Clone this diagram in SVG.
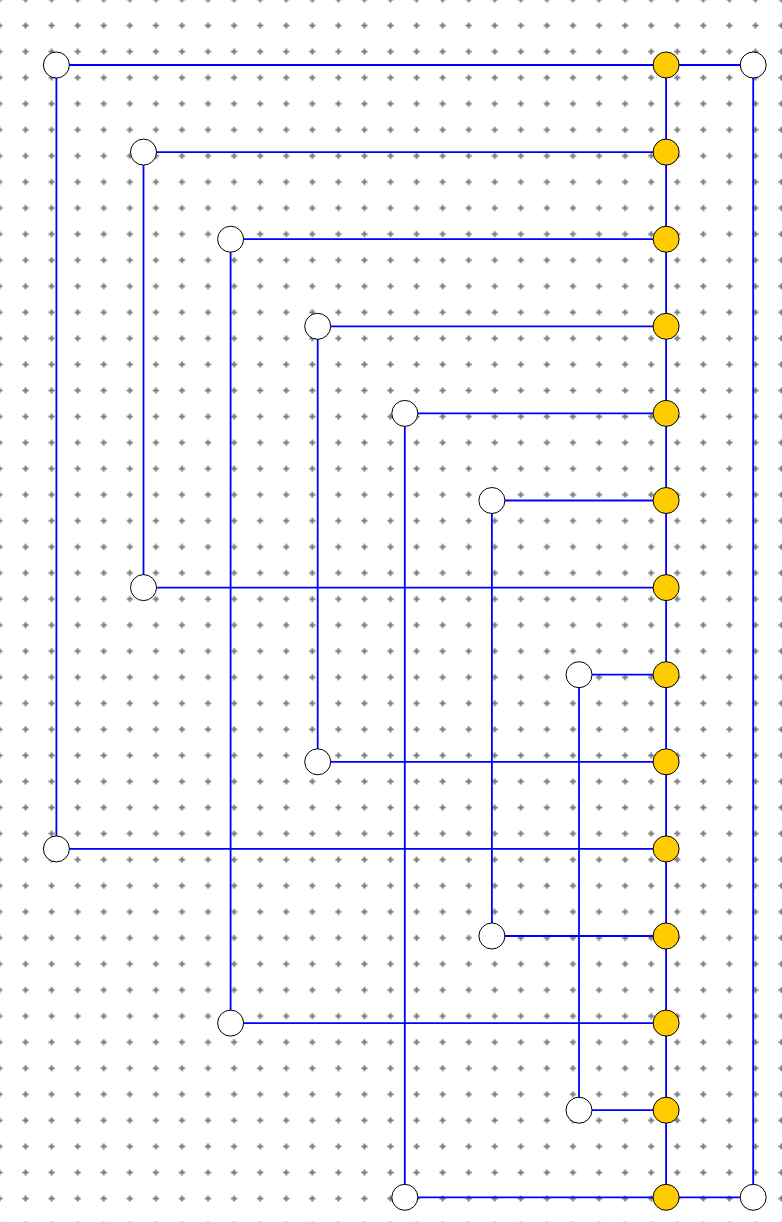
<svg xmlns="http://www.w3.org/2000/svg" width="782" height="1222" viewBox="0 0 782 1222">
<style>
.e{stroke:#0000FF;stroke-width:1.8;fill:none}
.w{fill:#FFFFFF;stroke:#000000;stroke-width:1}
.y{fill:#FFCC00;stroke:#000000;stroke-width:1}
</style>
<defs>
<pattern id="grid" patternUnits="userSpaceOnUse" x="-13.53" y="-13.53" width="26.0667" height="26.0667">
<path d="M10.03 13.03H16.03M13.03 10.03V16.03" stroke="#7A7A7A" stroke-width="2"/>
</pattern>
</defs>
<rect width="782" height="1222" fill="#FFFFFF"/>
<rect width="782" height="1222" fill="url(#grid)"/>
<g id="connectors">
<line class="e" x1="666.1" y1="65" x2="666.1" y2="1197.3"/>
<line class="e" x1="666.1" y1="65" x2="753.2" y2="65"/>
<line class="e" x1="753.2" y1="65" x2="753.2" y2="1197.3"/>
<line class="e" x1="753.2" y1="1197.3" x2="666.1" y2="1197.3"/>
<line class="e" x1="56.4" y1="65" x2="666.1" y2="65"/>
<line class="e" x1="56.4" y1="65" x2="56.4" y2="848.9"/>
<line class="e" x1="56.4" y1="848.9" x2="666.1" y2="848.9"/>
<line class="e" x1="143.5" y1="152.1" x2="666.1" y2="152.1"/>
<line class="e" x1="143.5" y1="152.1" x2="143.5" y2="587.6"/>
<line class="e" x1="143.5" y1="587.6" x2="666.1" y2="587.6"/>
<line class="e" x1="230.6" y1="239.2" x2="666.1" y2="239.2"/>
<line class="e" x1="230.6" y1="239.2" x2="230.6" y2="1023.1"/>
<line class="e" x1="230.6" y1="1023.1" x2="666.1" y2="1023.1"/>
<line class="e" x1="317.7" y1="326.3" x2="666.1" y2="326.3"/>
<line class="e" x1="317.7" y1="326.3" x2="317.7" y2="761.8"/>
<line class="e" x1="317.7" y1="761.8" x2="666.1" y2="761.8"/>
<line class="e" x1="404.8" y1="413.4" x2="666.1" y2="413.4"/>
<line class="e" x1="404.8" y1="413.4" x2="404.8" y2="1197.3"/>
<line class="e" x1="404.8" y1="1197.3" x2="666.1" y2="1197.3"/>
<line class="e" x1="491.9" y1="500.5" x2="666.1" y2="500.5"/>
<line class="e" x1="491.9" y1="500.5" x2="491.9" y2="936"/>
<line class="e" x1="491.9" y1="936" x2="666.1" y2="936"/>
<line class="e" x1="579" y1="674.7" x2="666.1" y2="674.7"/>
<line class="e" x1="579" y1="674.7" x2="579" y2="1110.2"/>
<line class="e" x1="579" y1="1110.2" x2="666.1" y2="1110.2"/>
</g>
<g id="y0"><circle class="y" cx="666.1" cy="65" r="13"/></g>
<g id="y1"><circle class="y" cx="666.1" cy="152.1" r="13"/></g>
<g id="y2"><circle class="y" cx="666.1" cy="239.2" r="13"/></g>
<g id="y3"><circle class="y" cx="666.1" cy="326.3" r="13"/></g>
<g id="y4"><circle class="y" cx="666.1" cy="413.4" r="13"/></g>
<g id="y5"><circle class="y" cx="666.1" cy="500.5" r="13"/></g>
<g id="y6"><circle class="y" cx="666.1" cy="587.6" r="13"/></g>
<g id="y7"><circle class="y" cx="666.1" cy="674.7" r="13"/></g>
<g id="y8"><circle class="y" cx="666.1" cy="761.8" r="13"/></g>
<g id="y9"><circle class="y" cx="666.1" cy="848.9" r="13"/></g>
<g id="y10"><circle class="y" cx="666.1" cy="936" r="13"/></g>
<g id="y11"><circle class="y" cx="666.1" cy="1023.1" r="13"/></g>
<g id="y12"><circle class="y" cx="666.1" cy="1110.2" r="13"/></g>
<g id="y13"><circle class="y" cx="666.1" cy="1197.3" r="13"/></g>
<g id="r0"><circle class="w" cx="753.2" cy="65" r="13"/></g>
<g id="r13"><circle class="w" cx="753.2" cy="1197.3" r="13"/></g>
<g id="a0"><circle class="w" cx="56.4" cy="65" r="13"/></g>
<g id="a9"><circle class="w" cx="56.4" cy="848.9" r="13"/></g>
<g id="b1"><circle class="w" cx="143.5" cy="152.1" r="13"/></g>
<g id="b6"><circle class="w" cx="143.5" cy="587.6" r="13"/></g>
<g id="c2"><circle class="w" cx="230.6" cy="239.2" r="13"/></g>
<g id="c11"><circle class="w" cx="230.6" cy="1023.1" r="13"/></g>
<g id="d3"><circle class="w" cx="317.7" cy="326.3" r="13"/></g>
<g id="d8"><circle class="w" cx="317.7" cy="761.8" r="13"/></g>
<g id="e4"><circle class="w" cx="404.8" cy="413.4" r="13"/></g>
<g id="e13"><circle class="w" cx="404.8" cy="1197.3" r="13"/></g>
<g id="f5"><circle class="w" cx="491.9" cy="500.5" r="13"/></g>
<g id="f10"><circle class="w" cx="491.9" cy="936" r="13"/></g>
<g id="g7"><circle class="w" cx="579" cy="674.7" r="13"/></g>
<g id="g12"><circle class="w" cx="579" cy="1110.2" r="13"/></g>
</svg>
